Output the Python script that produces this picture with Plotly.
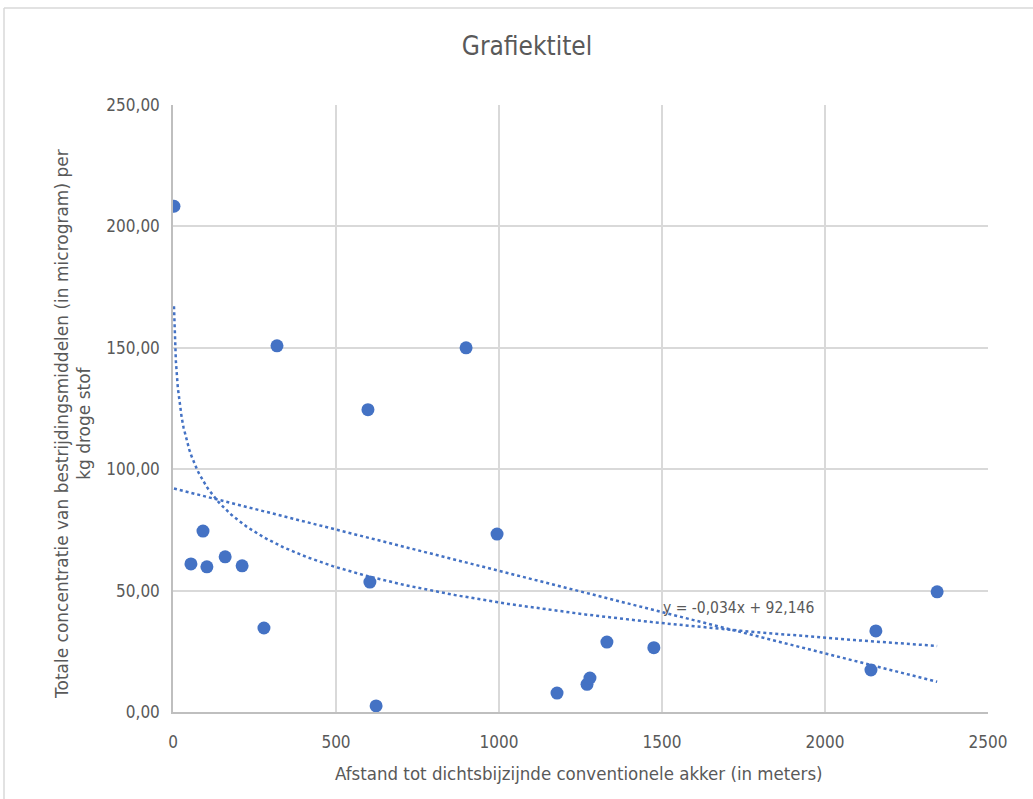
import numpy as np
import plotly.graph_objects as go

# Distance to the nearest conventional field (m) and total pesticide concentration
afstand = [3, 55, 92, 104, 160, 212, 279, 319, 598, 604, 623, 899, 994,
           1178, 1270, 1279, 1331, 1475, 2141, 2156, 2344]
concentratie = [208.3, 61.0, 74.5, 59.8, 63.9, 60.2, 34.6, 150.8, 124.5, 53.5, 2.5,
                150.0, 73.3, 7.8, 11.4, 14.0, 28.8, 26.5, 17.3, 33.4, 49.5]

# Linear trendline coefficients as printed on the chart
lin_slope = -0.034
lin_intercept = 92.146

x_ticks = [0, 500, 1000, 1500, 2000, 2500]
y_ticks = [0, 50, 100, 150, 200, 250]
y_tick_labels = ["0,00", "50,00", "100,00", "150,00", "200,00", "250,00"]

blue = "#4472C4"
grey_text = "#595959"

x_arr = np.array(afstand, dtype=float)
y_arr = np.array(concentratie, dtype=float)

# Logarithmic trendline fitted on the data
log_a, log_b = np.polyfit(np.log(x_arr), y_arr, 1)
x_log = np.linspace(x_arr.min(), x_arr.max(), 400)
y_log = log_a * np.log(x_log) + log_b

x_lin = np.array([x_arr.min(), x_arr.max()])
y_lin = lin_slope * x_lin + lin_intercept

fig = go.Figure()
fig.add_trace(go.Scatter(x=x_log, y=y_log, mode="lines",
                         line=dict(color=blue, width=2.5, dash="dot"),
                         hoverinfo="skip", showlegend=False))
fig.add_trace(go.Scatter(x=x_lin, y=y_lin, mode="lines",
                         line=dict(color=blue, width=2.5, dash="dot"),
                         hoverinfo="skip", showlegend=False))
fig.add_trace(go.Scatter(x=afstand, y=concentratie, mode="markers",
                         marker=dict(color=blue, size=13),
                         showlegend=False))

horiz_font = "DejaVu Sans Condensed, Liberation Sans Narrow, sans-serif"

fig.update_layout(
    width=1033, height=799,
    margin=dict(l=173, r=45, t=105, b=87),
    paper_bgcolor="white", plot_bgcolor="white",
    title=dict(text="Grafiektitel", x=(527 - 173) / 815, xref="paper", xanchor="center",
               y=1 - 46 / 799, yanchor="middle",
               font=dict(family=horiz_font, size=26, color=grey_text)),
    xaxis=dict(range=[0, 2500], tickvals=x_ticks, ticktext=[str(v) for v in x_ticks],
               showgrid=True, gridcolor="#d9d9d9", gridwidth=1.5,
               showline=True, linecolor="#bfbfbf", linewidth=1.5,
               zeroline=False, ticks="", ticklabelstandoff=14,
               tickfont=dict(family=horiz_font, size=17, color=grey_text)),
    yaxis=dict(range=[0, 250], tickvals=y_ticks, ticktext=y_tick_labels,
               showgrid=True, gridcolor="#d9d9d9", gridwidth=1.5,
               showline=True, linecolor="#bfbfbf", linewidth=1.5,
               zeroline=False, ticks="", ticklabelstandoff=8,
               tickfont=dict(family=horiz_font, size=17, color=grey_text)),
    annotations=[
        dict(text="Afstand tot dichtsbijzijnde conventionele akker (in meters)",
             xref="paper", yref="paper", x=(579 - 173) / 815, y=(712 - 773) / 607,
             xanchor="center", yanchor="middle", showarrow=False,
             font=dict(family=horiz_font, size=18.5, color=grey_text)),
        dict(text="Totale concentratie van bestrijdingsmiddelen (in microgram) per<br>kg droge stof",
             xref="paper", yref="paper", x=(73 - 173) / 815, y=(712 - 424) / 607,
             xanchor="center", yanchor="middle", showarrow=False, textangle=-90,
             font=dict(family="DejaVu Sans, sans-serif", size=17, color=grey_text)),
        dict(text="y = -0,034x + 92,146",
             xref="x", yref="y", x=1497, y=43, xanchor="left", yanchor="middle",
             showarrow=False,
             font=dict(family=horiz_font, size=15.5, color=grey_text)),
    ],
    shapes=[
        dict(type="line", xref="paper", yref="paper",
             x0=(4 - 173) / 815, x1=(1033 - 173) / 815,
             y0=(712 - 8) / 607, y1=(712 - 8) / 607,
             line=dict(color="#d9d9d9", width=1.5)),
        dict(type="line", xref="paper", yref="paper",
             x0=(4 - 173) / 815, x1=(4 - 173) / 815,
             y0=(712 - 8) / 607, y1=(712 - 800) / 607,
             line=dict(color="#d9d9d9", width=1.5)),
    ],
)

fig.write_html("out.html")
